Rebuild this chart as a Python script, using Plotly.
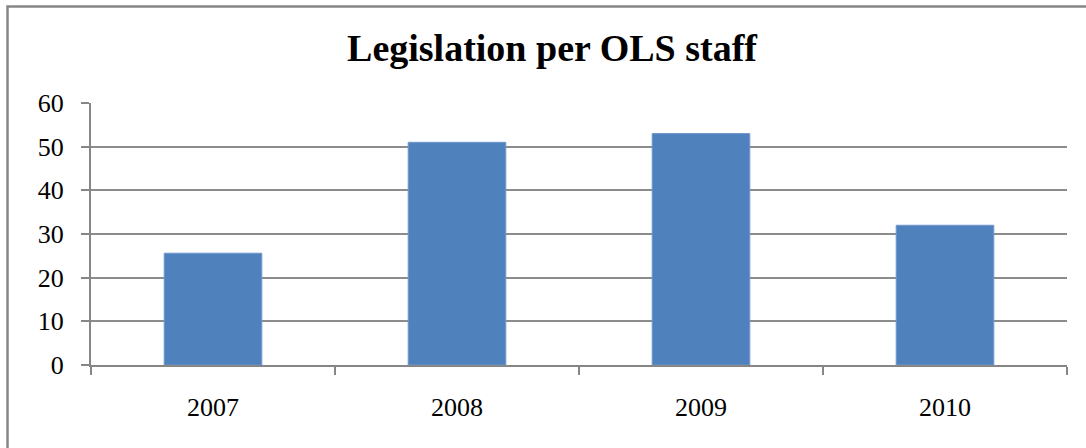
import plotly.graph_objects as go

categories = ["2007", "2008", "2009", "2010"]
values = [25.6, 51, 53, 32]
y_ticks = [0, 10, 20, 30, 40, 50, 60]

W, H = 1086, 448
L = 91
T = 103
R = W - 1067
B = H - 365
pw, ph = W - L - R, H - T - B

fig = go.Figure(go.Bar(
    x=categories, y=values,
    marker=dict(color="#4F81BD", line=dict(color="#6F98CC", width=1)),
    width=0.4,
))

def px_to_paper_x(px):
    return (px - L) / pw

def px_to_paper_y(py):
    return (H - B - py) / ph

fig.update_layout(
    width=W, height=H,
    margin=dict(l=L, r=R, t=T, b=B),
    paper_bgcolor="white", plot_bgcolor="white",
    showlegend=False,
    title=dict(
        text="<b>Legislation per OLS staff</b>",
        font=dict(family="Liberation Serif", size=38, color="black"),
        x=552 / W, xanchor="center", y=1 - 48 / H, yanchor="middle",
    ),
    font=dict(family="Liberation Serif", size=26, color="black"),
    xaxis=dict(
        type="category", tickson="boundaries",
        ticks="outside", ticklen=8, tickcolor="#868686", tickwidth=1.5,
        showline=True, linecolor="#868686", linewidth=2,
        showgrid=False, range=[-0.5, 3.5],
        ticklabelstandoff=18,
        tickfont=dict(family="Liberation Serif", size=26, color="black"),
    ),
    yaxis=dict(
        range=[0, 60], tickvals=y_ticks,
        ticks="outside", ticklen=8, tickcolor="#868686", tickwidth=1.5,
        showline=True, linecolor="#868686", linewidth=2,
        showgrid=True, gridcolor="#8C8C8C", gridwidth=1.5,
        zeroline=False,
        ticklabelstandoff=12,
        tickfont=dict(family="Liberation Serif", size=26, color="black"),
    ),
    shapes=[dict(
        type="rect", xref="paper", yref="paper",
        x0=px_to_paper_x(7.5), x1=px_to_paper_x(1110),
        y0=px_to_paper_y(480), y1=px_to_paper_y(6.5),
        line=dict(color="#868686", width=2.5), fillcolor="rgba(0,0,0,0)",
        layer="below",
    )],
)

fig.write_html(
    "out.html",
    config={"displayModeBar": False},
    post_script="document.body.style.margin='0';",
)
